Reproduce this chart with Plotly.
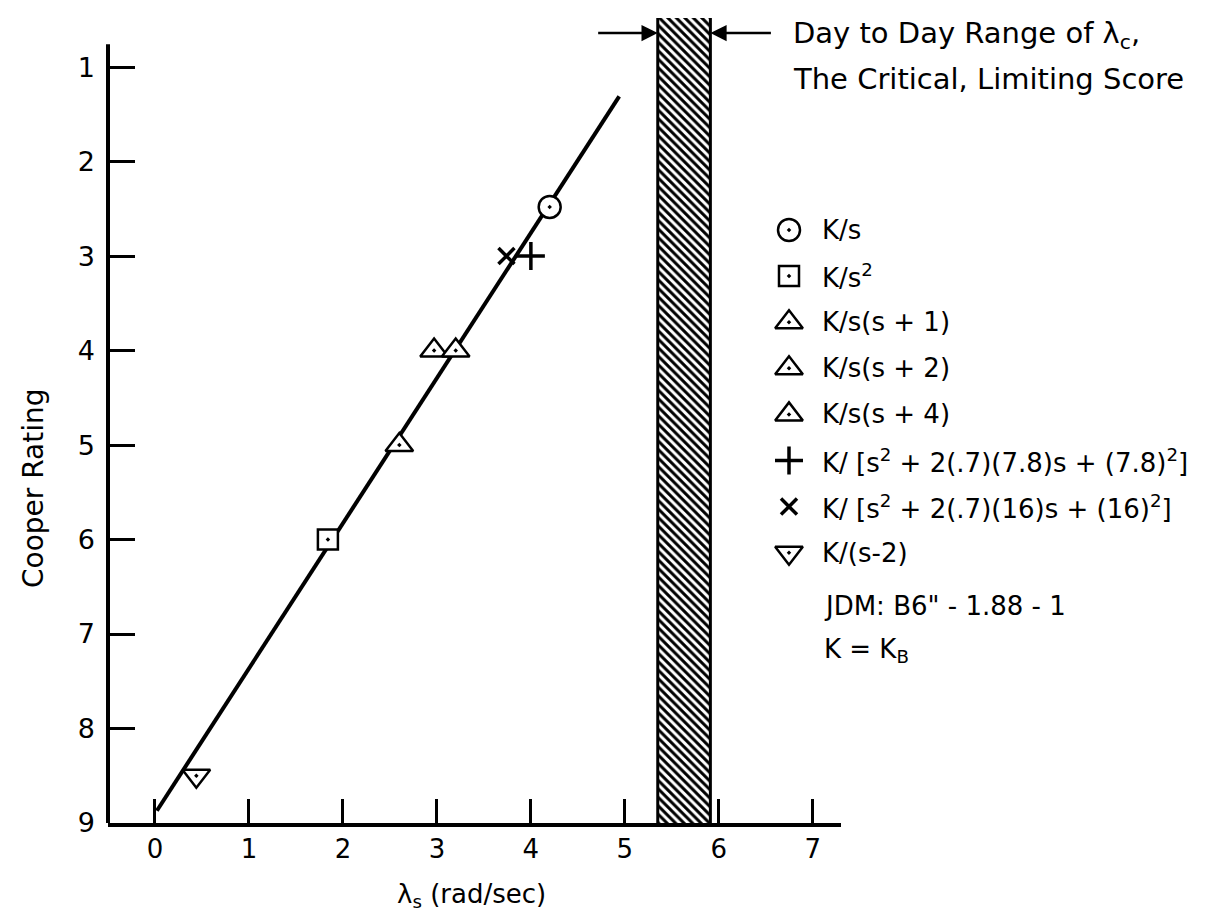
import plotly.graph_objects as go

# ---- data ----
fit_x = [0.02, 4.94]
fit_y = [8.87, 1.31]

series_names = [
    "K/s",
    "K/s<sup>2</sup>",
    "K/s(s + 1)",
    "K/s(s + 2)",
    "K/s(s + 4)",
    "K/ [s<sup>2</sup> + 2(.7)(7.8)s + (7.8)<sup>2</sup>]",
    "K/ [s<sup>2</sup> + 2(.7)(16)s + (16)<sup>2</sup>]",
    "K/(s-2)",
]
series_x = [[4.20], [1.84], [2.60], [2.97], [3.20], [4.00], [3.74], [0.44]]
series_y = [[2.48], [6.00], [5.00], [4.00], [4.00], [3.00], [3.00], [8.50]]
series_symbols = [
    "circle-dot", "square-dot", "triangle-up-dot", "triangle-up-dot",
    "triangle-up-dot", "cross-thin", "x-thin", "triangle-down-dot",
]
series_sizes = [22, 20, 24, 24, 24, 20, 16, 24]

lambda_c_range = [5.35, 5.91]

x_ticks = [0, 1, 2, 3, 4, 5, 6, 7]
x_tick_text = ["0", "1", "2", "3", "4", "5", "6", "7"]
y_ticks = [1, 2, 3, 4, 5, 6, 7, 8, 9]
y_tick_text = ["1", "2", "3", "4", "5", "6", "7", "8", "9"]

notes = ['JDM: B6" - 1.88 - 1', "K = K<sub>B</sub>"]

# ---- layout constants (pixel geometry of the page) ----
W, H = 1222, 915
FONT = "DejaVu Sans"
X_RANGE = [-0.5, 7.3]
Y_RANGE = [9, 0.48]
Y_AXIS_TOP = 0.757
ARROW_Y = 0.64
PLOT_L, PLOT_R, PLOT_T, PLOT_B = 100, 833, 10, 815
KEY_X, KEY_TEXT_X, KEY_Y0, KEY_DY = 781, 812, 222, 46.1


def px(x):
    return x / W


def py(y):
    return 1 - y / H


fig = go.Figure()

# hatched band: day to day range of lambda_c
lo, hi = lambda_c_range
fig.add_trace(go.Scatter(
    x=[lo, hi, hi, lo, lo],
    y=[Y_RANGE[0], Y_RANGE[0], Y_RANGE[1], Y_RANGE[1], Y_RANGE[0]],
    mode="lines", fill="toself", line=dict(width=0, color="black"),
    fillcolor="white",
    fillpattern=dict(shape="\\", fgcolor="black", bgcolor="white",
                     size=6, solidity=0.5, fillmode="replace"),
    showlegend=False, hoverinfo="skip",
))
fig.add_trace(go.Scatter(
    x=[lo, lo, None, hi, hi],
    y=[Y_RANGE[0], Y_RANGE[1], None, Y_RANGE[0], Y_RANGE[1]],
    mode="lines", line=dict(width=3, color="black"),
    showlegend=False, hoverinfo="skip",
))

# fitted line
fig.add_trace(go.Scatter(
    x=fit_x, y=fit_y, mode="lines",
    line=dict(color="black", width=4),
    showlegend=False, hoverinfo="skip",
))

# data points, plus a key marker for each on the key axes
ann = []
for i, name in enumerate(series_names):
    sym = series_symbols[i]
    thin = "thin" in sym
    mk = dict(symbol=sym, size=series_sizes[i],
              color="black" if thin else "white",
              line=dict(color="black", width=3.5 if thin else 2.5))
    fig.add_trace(go.Scatter(
        x=series_x[i], y=series_y[i], mode="markers", name=name,
        marker=mk, showlegend=False,
    ))
    row_y = KEY_Y0 + i * KEY_DY
    fig.add_trace(go.Scatter(
        x=[KEY_X], y=[row_y], mode="markers", name=name,
        marker=mk, showlegend=False, xaxis="x2", yaxis="y2",
        hoverinfo="skip",
    ))
    ann.append(dict(text=name, xref="x2", yref="y2", x=KEY_TEXT_X, y=row_y,
                    xanchor="left", yanchor="middle", showarrow=False,
                    font=dict(size=26)))

for j, note in enumerate(notes):
    ann.append(dict(text=note, xref="paper", yref="paper",
                    x=px(814), y=py(598 + j * 44), xanchor="left",
                    yanchor="middle", showarrow=False, font=dict(size=26)))

fig.update_layout(
    width=W, height=H,
    margin=dict(l=0, r=0, t=0, b=0, autoexpand=False),
    paper_bgcolor="white", plot_bgcolor="rgba(0,0,0,0)",
    font=dict(family=FONT, size=26, color="black"),
    showlegend=False,
    xaxis=dict(
        domain=[px(PLOT_L), px(PLOT_R)],
        range=X_RANGE, tickvals=x_ticks, ticktext=x_tick_text,
        ticks="inside", ticklen=24, tickwidth=3, tickcolor="black",
        showline=True, linewidth=4, linecolor="black",
        showgrid=False, zeroline=False, ticklabelstandoff=0,
        tickfont=dict(family=FONT, size=26),
    ),
    yaxis=dict(
        domain=[py(PLOT_B), py(PLOT_T)],
        range=Y_RANGE, tickvals=y_ticks, ticktext=y_tick_text,
        ticks="inside", ticklen=27, tickwidth=3, tickcolor="black",
        showline=False, showgrid=False, zeroline=False,
        tickfont=dict(family=FONT, size=27),
        ticklabelstandoff=12,
    ),
    xaxis2=dict(domain=[0, 1], range=[0, W], visible=False,
                anchor="y2", fixedrange=True),
    yaxis2=dict(domain=[0, 1], range=[H, 0], visible=False,
                anchor="x2", fixedrange=True),
    shapes=[
        dict(type="line", xref="paper", yref="y", x0=px(PLOT_L), x1=px(PLOT_L),
             y0=Y_RANGE[0], y1=Y_AXIS_TOP,
             line=dict(color="black", width=4)),
    ],
)

ann += [
    # axis titles
    dict(text="Cooper Rating", xref="paper", yref="paper",
         x=px(25), y=py(480), textangle=-90,
         xanchor="center", yanchor="middle",
         showarrow=False, font=dict(size=28)),
    dict(text="λ<sub>s</sub> (rad/sec)", xref="paper", yref="paper",
         x=px(463), y=py(887), xanchor="center", yanchor="middle",
         showarrow=False, font=dict(size=26)),
    # band description
    dict(text="Day to Day Range of λ<sub>c</sub>,", xref="paper", yref="paper",
         x=px(783), y=py(27), xanchor="left", yanchor="middle",
         showarrow=False, font=dict(size=29)),
    dict(text="The Critical, Limiting Score", xref="paper", yref="paper",
         x=px(783), y=py(71), xanchor="left", yanchor="middle",
         showarrow=False, font=dict(size=29)),
    # arrows pointing to band edges
    dict(text="", x=lo, y=ARROW_Y, ax=4.70, ay=ARROW_Y,
         xref="x", yref="y", axref="x", ayref="y",
         showarrow=True, arrowhead=2, arrowsize=1.3, arrowwidth=2.5,
         arrowcolor="black"),
    dict(text="", x=hi, y=ARROW_Y, ax=6.57, ay=ARROW_Y,
         xref="x", yref="y", axref="x", ayref="y",
         showarrow=True, arrowhead=2, arrowsize=1.3, arrowwidth=2.5,
         arrowcolor="black"),
]
fig.update_layout(annotations=ann)

fig.write_html("out.html")
